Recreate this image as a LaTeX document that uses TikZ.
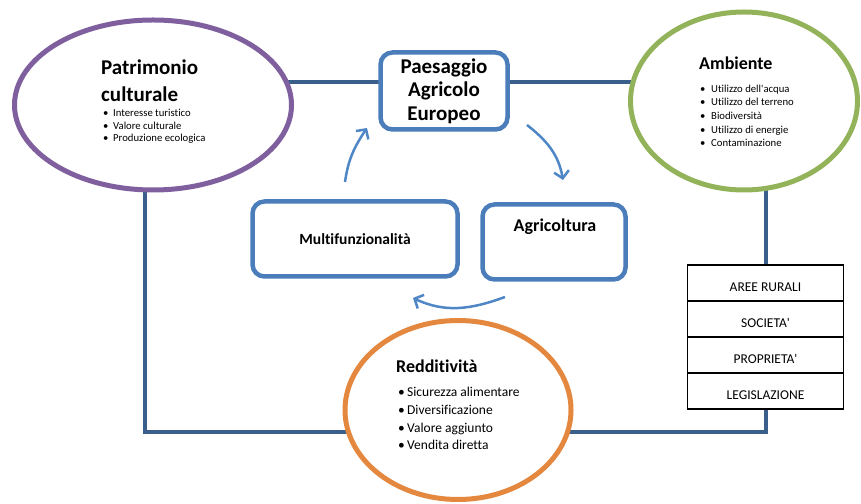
\documentclass[tikz,border=0pt]{standalone}
\usepackage{fontspec}
\setmainfont{Carlito}[Ligatures={NoCommon,TeXOff}]
\usetikzlibrary{shapes.geometric,arrows.meta,backgrounds}
\definecolor{connc}{HTML}{3A5F8B}
\definecolor{boxc}{HTML}{4A7DBA}
\definecolor{arrc}{HTML}{4F86C6}
\definecolor{purp}{HTML}{7F5F9E}
\definecolor{grn}{HTML}{93B35A}
\definecolor{orng}{HTML}{E5883F}
\newcommand\itm[2]{\makebox[#1][l]{\textbullet}#2}
\begin{document}
\begin{tikzpicture}[x=1pt,y=1pt,
  conn/.style={line width=4.5pt, draw=connc},
  ell/.style={ellipse, draw, line width=5pt, fill=white, inner sep=0pt},
  rbox/.style={rectangle, rounded corners=12pt, draw=boxc, line width=4.5pt, fill=white, inner sep=0pt},
  cyc/.style={line width=2.5pt, draw=arrc, -{Straight Barb[length=7pt,width=15pt]}},
  rowbox/.style={rectangle, draw=black, line width=1.2pt, fill=white, minimum width=156pt, minimum height=36pt, inner sep=0pt, font=\fontsize{13.5}{15}\selectfont, text height=18pt, text depth=0pt},
  ttl/.style={anchor=base west, inner sep=0pt, align=left},
  lst/.style={anchor=base west, inner sep=0pt, align=left},
]
\useasboundingbox (0,0) rectangle (861,503);

% ellipses
\node[ell, draw=purp, minimum width=277pt, minimum height=170pt] (patr) at (153,398) {};
\node[ell, draw=grn, minimum width=227pt, minimum height=178pt] (amb) at (744,402) {};
\node[ell, draw=orng, minimum width=226pt, minimum height=179pt] (redd) at (458,93) {};

% boxes
\node[rbox, minimum width=127pt, minimum height=77pt, font=\bfseries\fontsize{21}{23.5}\selectfont, align=center] (paes) at (444,412) {Paesaggio\\Agricolo\\Europeo};
\node[rbox, minimum width=205pt, minimum height=75pt, font=\bfseries\fontsize{15.5}{18}\selectfont] (multi) at (355,264) {Multifunzionalit\`a};
\node[rbox, minimum width=143pt, minimum height=75pt] (agri) at (554,261) {};
\node[inner sep=0pt, font=\bfseries\fontsize{18}{20}\selectfont] (agriT) at (555,276) {Agricoltura};

% table
\node[rowbox] (r1) at (765.5,220) {AREE RURALI};
\node[rowbox] (r2) at (765.5,184) {SOCIETA'};
\node[rowbox] (r3) at (765.5,148) {PROPRIETA'};
\node[rowbox] (r4) at (765.5,112) {LEGISLAZIONE};

% texts in ellipses
\node[ttl, font=\bfseries\fontsize{21}{27}\selectfont] (patrT) at (101,401) {Patrimonio\\culturale};
\node[lst, font=\fontsize{10.7}{12.7}\selectfont] (patrL) at (103,361) {\itm{10pt}{Interesse turistico}\\\itm{10pt}{Valore culturale}\\\itm{10pt}{Produzione ecologica}};

\node[ttl, font=\bfseries\fontsize{18}{20}\selectfont] (ambT) at (699,433) {Ambiente};
\node[lst, font=\fontsize{10.7}{13.7}\selectfont] (ambL) at (700,356) {\itm{11pt}{Utilizzo dell'acqua}\\\itm{11pt}{Utilizzo del terreno}\\\itm{11pt}{Biodiversit\`a}\\\itm{11pt}{Utilizzo di energie}\\\itm{11pt}{Contaminazione}};

\node[ttl, font=\bfseries\fontsize{18}{20}\selectfont] (reddT) at (396,130) {Redditivit\`a};
\node[lst, font=\fontsize{13.5}{17.7}\selectfont] (reddL) at (398,53) {\itm{9pt}{Sicurezza alimentare}\\\itm{9pt}{Diversificazione}\\\itm{9pt}{Valore aggiunto}\\\itm{9pt}{Vendita diretta}};

% connectors
\coordinate (ty) at (0,421);
\coordinate (by) at (0,71);
\coordinate (lx) at (145,0);
\coordinate (rx) at (766,0);
\begin{pgfonlayer}{background}
\draw[conn] (patr.center |- ty) -- (amb.center |- ty);
\draw[conn] (lx |- patr.center) -- (lx |- by) -- (redd.center |- by);
\draw[conn] (rx |- amb.center) -- (rx |- by) -- (redd.center |- by);
\end{pgfonlayer}

% cycle arrows
\coordinate (a1s) at (345,321);
\coordinate (a1e) at (367,375);
\coordinate (a2s) at (527,378);
\coordinate (a2e) at (563,323);
\coordinate (a3s) at (505,206);
\coordinate (a3e) at (413,205);
\draw[cyc] (a1s) to[out=82,in=236] (a1e);
\draw[cyc] (a2s) to[out=-38,in=100] (a2e);
\draw[cyc] (a3s) to[out=200,in=-25] (a3e);
\end{tikzpicture}
\end{document}
